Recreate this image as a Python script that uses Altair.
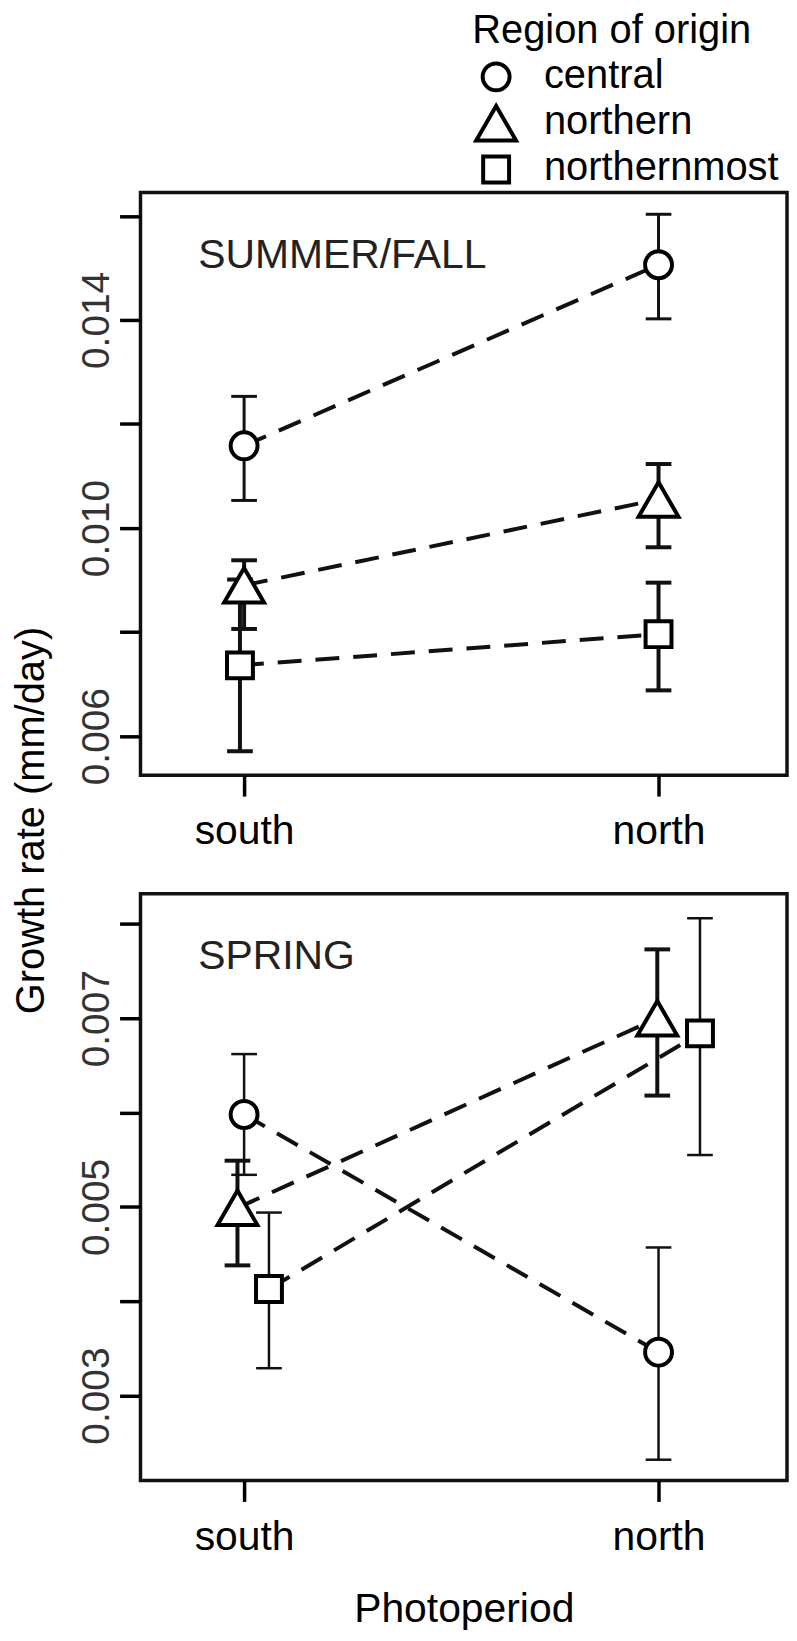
import altair as alt
import pandas as pd

regions = ["central", "northern", "northernmost"]
photoperiods = ["south", "north"]
panel_names = ["SUMMER/FALL", "SPRING"]
legend_title = ["Region of origin"]

# SUMMER/FALL panel (mm/day): means and error-bar ends, south then north
sf_mean_south = [0.01158, 0.00890, 0.00736]
sf_mean_north = [0.01506, 0.01055, 0.00796]
sf_lo_south = [0.01053, 0.00806, 0.00571]
sf_lo_north = [0.01402, 0.00963, 0.00688]
sf_hi_south = [0.01253, 0.00938, 0.00901]
sf_hi_north = [0.01603, 0.01123, 0.00895]
sf_dodge_south = [0.0, 0.0, -0.01]
sf_dodge_north = [0.0, 0.0, 0.0]

# SPRING panel
sp_mean_south = [0.00598, 0.00499, 0.00413]
sp_mean_north = [0.00346, 0.00700, 0.00684]
sp_lo_south = [0.00534, 0.00438, 0.00329]
sp_lo_north = [0.00232, 0.00618, 0.00555]
sp_hi_south = [0.00662, 0.00549, 0.00494]
sp_hi_north = [0.00457, 0.00773, 0.00806]
sp_dodge_south = [0.0, -0.016, 0.06]
sp_dodge_north = [0.0, -0.003, 0.10]

sf_ticks = [0.006, 0.008, 0.010, 0.012, 0.014, 0.016]
sf_labels = ["0.006", "0.010", "0.014"]
sp_ticks = [0.003, 0.004, 0.005, 0.006, 0.007, 0.008]
sp_labels = ["0.003", "0.005", "0.007"]

FONT = "Liberation Sans"


def build(ms, mn, ls, ln, hs, hn, ds, dn):
    rows = []
    for i, r in enumerate(regions):
        vals = [(ms[i], ls[i], hs[i], ds[i]), (mn[i], ln[i], hn[i], dn[i])]
        for j, (m, lo, hi, d) in enumerate(vals):
            rows.append(dict(region=r, photoperiod=photoperiods[j],
                             xpos=j + 1 + d, mean=m, lo=lo, hi=hi))
    return pd.DataFrame(rows)


sf = build(sf_mean_south, sf_mean_north, sf_lo_south, sf_lo_north,
           sf_hi_south, sf_hi_north, sf_dodge_south, sf_dodge_north)
sp = build(sp_mean_south, sp_mean_north, sp_lo_south, sp_lo_north,
           sp_hi_south, sp_hi_north, sp_dodge_south, sp_dodge_north)

label_js = "[" + ",".join(f"'{p}'" for p in photoperiods) + "]"

shape_scale = alt.Scale(domain=regions, range=["circle", "triangle-up", "square"])
size_scale = alt.Scale(type="ordinal", domain=regions, range=[729, 1600, 676])

# ---- legend drawn as its own small chart above the panels ----
leg_df = pd.DataFrame({"region": regions})
leg_y = alt.Y("region:N", axis=None,
              scale=alt.Scale(type="point", domain=regions, range=[62, 155], padding=0))
leg_sym = alt.Chart(leg_df).mark_point(filled=False, strokeWidth=4, opacity=1,
                                       color="black", fill="white").encode(
    x=alt.value(357), y=leg_y,
    shape=alt.Shape("region:N", scale=shape_scale, legend=None),
    size=alt.Size("region:N", scale=size_scale, legend=None))
leg_lab = alt.Chart(leg_df).mark_text(align="left", baseline="alphabetic", dy=11,
                                      fontSize=40, font=FONT, color="black").encode(
    x=alt.value(405), y=leg_y, text="region:N")
leg_tit = alt.Chart(pd.DataFrame({"t": legend_title})).mark_text(
    align="left", baseline="alphabetic", fontSize=40, font=FONT,
    color="black").encode(x=alt.value(333), y=alt.value(28), text="t:N")
legend_chart = alt.layer(leg_sym, leg_lab, leg_tit).properties(
    width=649, height=59, view=alt.ViewBackground(strokeOpacity=0, strokeWidth=0))


def panel(df, ydomain, yticks, ylabels, name, err_widths, top, height):
    xaxis = alt.Axis(values=[1, 2],
                     labelExpr=f"{label_js}[datum.value < 1.5 ? 0 : 1]",
                     labelFontSize=41, labelFont=FONT, labelColor="black",
                     labelPadding=16, labelFlush=False, tickSize=21,
                     tickWidth=3.5, tickColor="black", domain=False, grid=False,
                     title=None if top else "Photoperiod",
                     titleFontSize=41, titleFont=FONT, titleFontWeight="normal",
                     titleColor="black", titlePadding=33)
    xsc = alt.Scale(domain=[0.75, 2.31], nice=False, zero=False)
    lab_js = "[" + ",".join(f"'{s}'" for s in ylabels) + "]"
    yaxis_kw = dict(values=yticks,
                    labelExpr=f"indexof({lab_js}, format(datum.value, '.3f')) >= 0 ? format(datum.value, '.3f') : ''",
                    labelAngle=270, labelAlign="center", labelBaseline="alphabetic",
                    labelFontSize=39, labelFont=FONT, labelColor="#333",
                    labelPadding=11, labelFlush=False, labelOverlap=False,
                    tickSize=21, tickWidth=3.5, tickColor="black",
                    domain=False, grid=False)
    if top:
        yaxis = alt.Axis(title="Growth rate (mm/day)", titleFontSize=40,
                         titleFont=FONT, titleFontWeight="normal",
                         titleColor="black", titleAngle=270, titleX=-109,
                         titleY=630, titleAlign="center",
                         titleBaseline="middle", **yaxis_kw)
    else:
        yaxis = alt.Axis(title=None, **yaxis_kw)
    ysc = alt.Scale(domain=ydomain, nice=False, zero=False)

    def X(f):
        return alt.X(f, scale=xsc, axis=xaxis)

    def Y(f):
        return alt.Y(f, scale=ysc, axis=yaxis)

    sw = alt.StrokeWidth("region:N", scale=alt.Scale(type="ordinal", domain=regions,
                                                     range=err_widths), legend=None)
    base = alt.Chart(df)
    lines = base.mark_line(strokeDash=[24, 14], strokeWidth=4, color="#111").encode(
        x=X("xpos:Q"), y=Y("mean:Q"), detail="region:N")
    stems = base.mark_rule(color="#111").encode(
        x=X("xpos:Q"), y=Y("lo:Q"), y2="hi:Q", strokeWidth=sw)
    caps = base.transform_calculate(
        xl="datum.xpos - 0.031", xr="datum.xpos + 0.031")
    cap_lo = caps.mark_rule(color="#111").encode(
        x=X("xl:Q"), x2="xr:Q", y=Y("lo:Q"), strokeWidth=sw)
    cap_hi = caps.mark_rule(color="#111").encode(
        x=X("xl:Q"), x2="xr:Q", y=Y("hi:Q"), strokeWidth=sw)
    points = base.mark_point(filled=False, strokeWidth=4, opacity=1,
                             color="black", fill="white").encode(
        x=X("xpos:Q"), y=Y("mean:Q"),
        shape=alt.Shape("region:N", scale=shape_scale, legend=None),
        size=alt.Size("region:N", scale=size_scale, legend=None))
    txt = alt.Chart(pd.DataFrame({"label": [name]})).mark_text(
        align="left", baseline="alphabetic", fontSize=41, font=FONT,
        color="#222").encode(text="label:N", x=alt.value(58), y=alt.value(76))
    return alt.layer(lines, stems, cap_lo, cap_hi, points, txt).properties(
        width=649, height=height)


top = panel(sf, [0.00525, 0.01645], sf_ticks, sf_labels, panel_names[0],
            [3.0, 4.0, 4.0], True, 585)
bottom = panel(sp, [0.0021, 0.00832], sp_ticks, sp_labels, panel_names[1],
               [2.5, 4.0, 2.5], False, 589)

chart = alt.vconcat(legend_chart, top, bottom, spacing=119, bounds="flush").resolve_scale(
    strokeWidth="independent"
).properties(padding={"left": 2, "top": 0, "right": 0, "bottom": 0}).configure_view(
    stroke="#111", strokeWidth=3.5)

chart.save("out.html", embed_options={"renderer": "svg", "actions": False})
